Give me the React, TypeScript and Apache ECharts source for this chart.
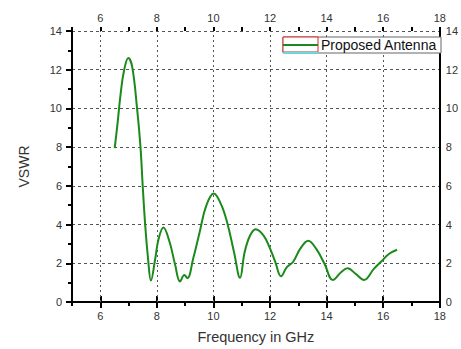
import React, { useEffect, useRef } from "react";
import * as echarts from "echarts";

// Measured VSWR versus frequency
const freqGHz = [
  6.51, 6.61, 6.72, 6.84, 6.99, 7.13, 7.3, 7.42, 7.5, 7.59, 7.69, 7.79, 7.94, 8.06, 8.23,
  8.45, 8.64, 8.82, 8.97, 9.08, 9.28, 9.51, 9.74, 10.01, 10.27, 10.5, 10.73, 10.94, 11.1,
  11.29, 11.49, 11.78, 12.01, 12.19, 12.39, 12.59, 12.82, 13.06, 13.35, 13.64, 13.93, 14.22,
  14.51, 14.74, 15.03, 15.32, 15.67, 15.96, 16.2, 16.49,
];
const vswr = [
  7.95, 9.23, 10.77, 11.96, 12.6, 12.13, 10.0, 8.03, 5.98, 3.93, 2.22, 1.11, 2.22, 3.25, 3.85,
  3.1, 1.96, 1.06, 1.4, 1.23, 2.22, 3.59, 4.95, 5.6, 5.04, 4.02, 2.56, 1.25, 2.56, 3.42, 3.76,
  3.42, 2.73, 2.05, 1.33, 1.79, 2.08, 2.73, 3.16, 2.73, 1.96, 1.14, 1.54, 1.74, 1.45, 1.14,
  1.71, 2.13, 2.48, 2.7,
];
// Frequency axis: labelled major ticks and the gridlines drawn at them
const freqMajorTicks = [6, 8, 10, 12, 14, 16, 18];
const freqGridLines = [6, 8, 10, 12, 14, 16];
const seriesName = "Proposed Antenna";
const xLabel = "Frequency in GHz";
const yLabel = "VSWR";

const FONT = "Liberation Sans, Arial, sans-serif";
const LABEL_COLOR = "#333";

export default function App() {
  const ref = useRef<HTMLDivElement>(null);

  useEffect(() => {
    document.body.style.margin = "0";
    if (!ref.current) return;
    const chart = echarts.init(ref.current, undefined, { renderer: "svg" });

    const axisLine = { show: true, lineStyle: { color: "#000", width: 2 } };
    const axisLabel = { color: LABEL_COLOR, fontSize: 11, fontFamily: FONT };
    const tickStyle = { color: "#000", width: 2 };

    // Labelled frequency axis (major ticks at even GHz)
    const freqMajor = (position: "top" | "bottom", extra: object = {}) => ({
      type: "value",
      min: 5,
      max: 18,
      interval: 1,
      position,
      axisLine,
      axisTick: { show: true, length: 6, customValues: freqMajorTicks, lineStyle: tickStyle },
      axisLabel: { ...axisLabel, margin: 8, customValues: freqMajorTicks },
      splitLine: { show: false },
      ...extra,
    });
    // Short ticks at every GHz step
    const freqMinor = (position: "top" | "bottom") => ({
      type: "value",
      min: 5,
      max: 18,
      interval: 1,
      position,
      axisLine: { show: false },
      axisTick: { show: true, length: 4, lineStyle: tickStyle },
      axisLabel: { show: false },
      splitLine: { show: false },
    });

    chart.setOption({
      animation: false,
      backgroundColor: "#fff",
      grid: { left: 72, right: 18, top: 31, bottom: 46 },
      xAxis: [
        freqMajor("bottom", {
          name: xLabel,
          nameLocation: "middle",
          nameGap: 27,
          nameTextStyle: { color: LABEL_COLOR, fontSize: 14.5, fontFamily: FONT },
        }),
        freqMajor("top"),
        freqMinor("bottom"),
        freqMinor("top"),
      ],
      yAxis: [
        {
          type: "value",
          min: 0,
          max: 14,
          interval: 2,
          position: "left",
          axisLine,
          axisTick: { show: true, length: 6, lineStyle: tickStyle },
          minorTick: { show: true, splitNumber: 2, length: 4, lineStyle: tickStyle },
          axisLabel: { ...axisLabel, margin: 10 },
          splitLine: { show: true, lineStyle: { color: "#555", type: [3, 3], width: 1 } },
          name: yLabel,
          nameLocation: "middle",
          nameGap: 41,
          nameRotate: 90,
          nameTextStyle: { color: LABEL_COLOR, fontSize: 14, fontFamily: FONT },
        },
        {
          type: "value",
          min: 0,
          max: 14,
          interval: 2,
          position: "right",
          axisLine,
          axisTick: { show: false },
          axisLabel: { ...axisLabel, margin: 6 },
          splitLine: { show: false },
        },
      ],
      series: [
        {
          name: seriesName,
          type: "line",
          xAxisIndex: 0,
          yAxisIndex: 0,
          data: freqGHz.map((f, i) => [f, vswr[i]]),
          smooth: 0.4,
          showSymbol: false,
          lineStyle: { color: "#1b8a1b", width: 2 },
          z: 5,
          markLine: {
            silent: true,
            symbol: "none",
            label: { show: false },
            lineStyle: { color: "#555", type: [2, 3], width: 1 },
            data: freqGridLines.map((f) => ({ xAxis: f })),
            z: 1,
          },
        },
      ],
      graphic: [
        {
          type: "rect",
          shape: { x: 283, y: 37, width: 158, height: 16 },
          style: { fill: "#fff", stroke: "#666", lineWidth: 1 },
          z: 10,
        },
        {
          type: "rect",
          shape: { x: 283, y: 37, width: 35, height: 15 },
          style: { fill: "#fff", stroke: "#d22", lineWidth: 1 },
          z: 11,
        },
        {
          type: "line",
          shape: { x1: 283, y1: 52.5, x2: 318, y2: 52.5 },
          style: { stroke: "#4de8ee", lineWidth: 1.5 },
          z: 12,
        },
        {
          type: "line",
          shape: { x1: 283, y1: 45, x2: 318, y2: 45 },
          style: { stroke: "#1b8a1b", lineWidth: 2 },
          z: 12,
        },
        {
          type: "text",
          x: 321,
          y: 45,
          style: {
            text: seriesName,
            fill: "#111",
            fontSize: 14,
            fontFamily: FONT,
            verticalAlign: "middle",
          },
          z: 12,
        },
      ],
    });

    return () => chart.dispose();
  }, []);

  return <div ref={ref} style={{ width: 461, height: 349 }} />;
}
